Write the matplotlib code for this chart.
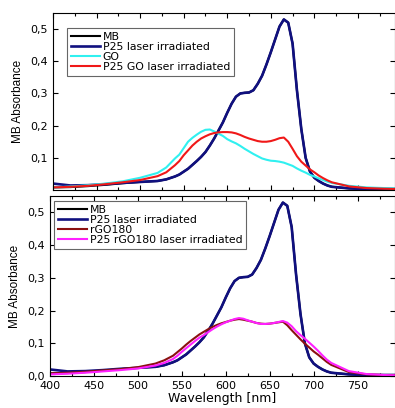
import matplotlib
matplotlib.use("Agg")
import matplotlib.pyplot as plt
from matplotlib.ticker import MultipleLocator, FuncFormatter

# wavelength grid [nm]
wavelength = [400, 420, 440, 460, 480, 500, 520, 530, 540,
              545, 550, 555, 560, 565, 570, 575, 580, 585, 590, 595,
              600, 605, 610, 615, 620, 625, 630, 635, 640, 645,
              650, 655, 660, 665, 670, 675, 680, 685, 690, 695,
              700, 705, 710, 715, 720, 740, 760, 780, 795]

# P25 laser irradiated (same sample in both panels)
p25 = [.020, .014, .015, .018, .022, .025, .028, .033, .042,
       .048, .057, .066, .078, .090, .103, .118, .138, .160, .185, .210,
       .240, .268, .290, .300, .302, .303, .310, .330, .355, .390,
       .428, .468, .508, .530, .520, .455, .310, .190, .100, .057,
       .038, .028, .020, .014, .010, .005, .003, .003, .003]

# MB, hidden under P25 except at short wavelengths
mb = [.008, .009, .012, .016, .021] + p25[5:]

go = [.008, .011, .015, .020, .027, .038, .053, .070, .098,
      .110, .130, .150, .162, .172, .181, .187, .188, .182, .175, .168,
      .158, .151, .145, .137, .128, .120, .112, .105, .098, .094,
      .091, .090, .088, .085, .080, .075, .067, .060, .054, .047,
      .042, .036, .031, .026, .022, .013, .008, .006, .005]

p25_go = [.008, .010, .013, .018, .024, .031, .043, .055, .077,
          .090, .108, .123, .138, .150, .160, .167, .173, .177, .179, .180,
          .180, .179, .176, .171, .165, .160, .156, .152, .150, .150,
          .152, .156, .161, .163, .150, .128, .105, .088, .076, .064,
          .055, .045, .037, .030, .024, .011, .006, .004, .003]

rgo180 = [.008, .010, .013, .017, .021, .027, .038, .048, .062,
          .073, .084, .096, .107, .117, .127, .135, .143, .150, .156, .161,
          .165, .169, .172, .174, .172, .169, .166, .162, .160, .159,
          .160, .162, .164, .166, .155, .140, .126, .112, .099, .087,
          .075, .065, .054, .043, .034, .012, .005, .003, .003]

p25_rgo180 = [.005, .007, .010, .014, .018, .023, .032, .040, .052,
              .062, .074, .085, .096, .107, .117, .125, .134, .143, .151, .158,
              .164, .169, .174, .177, .175, .170, .166, .162, .159, .159,
              .160, .162, .165, .168, .163, .152, .137, .125, .114, .102,
              .090, .077, .063, .050, .040, .015, .006, .003, .002]

fig = plt.figure(figsize=(3.95, 4.08), dpi=100)
ax1 = fig.add_axes([53 / 395, 218 / 408, 341.5 / 395, 177 / 408])
ax2 = fig.add_axes([50 / 395, 32 / 408, 344.5 / 395, 180 / 408])

comma = FuncFormatter(lambda v, p: ("%.1f" % v).replace(".", ","))

# top panel: GO
ax1.plot(wavelength, mb, color="black", lw=1.5, label="MB")
ax1.plot(wavelength, p25, color="#10107f", lw=1.9, label="P25 laser irradiated")
ax1.plot(wavelength, go, color="#30f0f0", lw=1.5, label="GO")
ax1.plot(wavelength, p25_go, color="#f01818", lw=1.5, label="P25 GO laser irradiated")

# bottom panel: rGO180
ax2.plot(wavelength, mb, color="black", lw=1.5, label="MB")
ax2.plot(wavelength, p25, color="#10107f", lw=1.9, label="P25 laser irradiated")
ax2.plot(wavelength, rgo180, color="#8b1010", lw=1.5, label="rGO180")
ax2.plot(wavelength, p25_rgo180, color="#ff20ff", lw=1.5, label="P25 rGO180 laser irradiated")

for ax in (ax1, ax2):
    ax.set_xlim(400, 792)
    ax.set_ylim(0, 0.55)
    ax.xaxis.set_major_locator(MultipleLocator(50))
    ax.xaxis.set_minor_locator(MultipleLocator(25))
    ax.yaxis.set_major_locator(MultipleLocator(0.1))
    ax.yaxis.set_major_formatter(comma)
    ax.tick_params(which="both", direction="in", top=True, right=True,
                   labelsize=8, width=0.8)
    ax.tick_params(which="major", length=3.5)
    ax.tick_params(which="minor", length=2)
    for s in ax.spines.values():
        s.set_linewidth(0.8)
    ax.set_ylabel("MB Absorbance", fontsize=8.5, family="Liberation Sans")
    ax.yaxis.set_label_coords(-0.085, 0.5)

ax1.set_yticks([0.1, 0.2, 0.3, 0.4, 0.5])
ax1.tick_params(axis="x", labelbottom=False)
ax2.set_xlabel("Wavelength [nm]", fontsize=9, labelpad=1)

leg_kw = dict(loc="upper left", fontsize=7.8, labelspacing=0.0, borderpad=0.35,
              handlelength=2.7, handletextpad=0.25, borderaxespad=0,
              fancybox=False, framealpha=1, edgecolor="#666666")
l1 = ax1.legend(bbox_to_anchor=(0.041, 0.915), **leg_kw)
l2 = ax2.legend(bbox_to_anchor=(0.012, 0.972), **leg_kw)
for l in (l1, l2):
    l.get_frame().set_linewidth(0.8)

fig.savefig("out.png", dpi=100)
